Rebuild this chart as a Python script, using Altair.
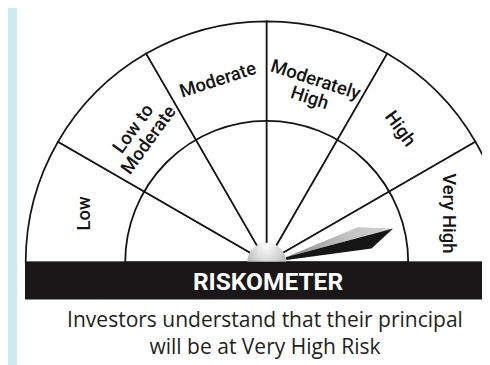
import math
import altair as alt
import pandas as pd

# ---- data ----
CATEGORIES = ["Low", "Low to Moderate", "Moderate", "Moderately High", "High", "Very High"]
LABELS = ["Low", "Low to\nModerate", "Moderate", "Moderately\nHigh", "High", "Very High"]
SHARES = [1, 1, 1, 1, 1, 1]
NEEDLE_LEVEL = "Very High"
TITLE = ["RISKOMETER"]
CAPTION = ["Investors understand that their principal\nwill be at Very High Risk"]

# ---- layout ----
W, H = 474, 357
CX, CY = 258.7, 254.3
R_OUT, R_IN, R_LABEL, R_HUB = 241, 141.5, 189, 19.5
NEEDLE_LEN = 131
N = len(CATEGORIES)
SPAN = 180.0 / N
LABEL_FONT = "Roboto"

seg = pd.DataFrame({"category": CATEGORIES, "label": LABELS, "share": SHARES,
                    "idx": list(range(N))})
needle = pd.DataFrame({"level": [NEEDLE_LEVEL], "idx": [CATEGORIES.index(NEEDLE_LEVEL)]})
one = pd.DataFrame({"k": [0]})

theta_enc = alt.Theta("share:Q", stack=True,
                      scale=alt.Scale(range=[-math.pi / 2, math.pi / 2]))

panel = alt.Chart(one).mark_rect(color="white").encode(
    x=alt.value(9), x2=alt.value(W + 2), y=alt.value(-2), y2=alt.value(H + 2))

base = alt.Chart(seg).encode(theta=theta_enc, order=alt.Order("idx:Q"),
                             detail="category:N", x=alt.value(CX), y=alt.value(CY))

segments = base.mark_arc(radius=R_OUT, fill="white", stroke="#141414", strokeWidth=1.7)

inner = alt.Chart(one).mark_arc(radius=R_IN, theta=1.5 * math.pi, theta2=2.5 * math.pi,
                                fillOpacity=0, stroke="#141414", strokeWidth=1.8).encode(
    x=alt.value(CX), y=alt.value(CY))

labels = base.transform_calculate(
    mid=f"180 - (datum.idx + 0.5) * {SPAN}",
    rot="(1.2 * (90 - datum.mid) + 360) % 360",
).mark_text(radius=R_LABEL, font=LABEL_FONT, fontSize=18.5, fontWeight=500,
            lineBreak="\n", lineHeight=19,
            color="#141414", align="center", baseline="middle").encode(
    text="label:N", angle=alt.Angle("rot:Q", scale=None))

needle_base = alt.Chart(needle).transform_calculate(
    rot=f"180 + (datum.idx + 0.5) * {SPAN}"
).encode(x=alt.value(CX), y=alt.value(CY), angle=alt.Angle("rot:Q", scale=None))

NEEDLE_UP = "M 0.15 0 L 0.74 -0.079 L 1 0 Z"
NEEDLE_DN = "M 0.15 0 L 1 0 L 0.80 0.106 L 0.15 0.022 Z"
nsize = (2 * NEEDLE_LEN) ** 2

needle_up = needle_base.mark_point(
    shape=NEEDLE_UP, size=nsize, filled=True, opacity=1, strokeWidth=0,
    fill=alt.LinearGradient(gradient="linear",
                            stops=[alt.GradientStop(color="#8c8c8c", offset=0),
                                   alt.GradientStop(color="#c4c4c4", offset=0.6),
                                   alt.GradientStop(color="#cfcfcf", offset=1)],
                            x1=0, y1=0, x2=1, y2=0))
needle_dn = needle_base.mark_point(shape=NEEDLE_DN, size=nsize, filled=True, opacity=1,
                                   strokeWidth=0, fill="#161616")

hub = alt.Chart(one).mark_arc(
    radius=R_HUB, theta=1.5 * math.pi, theta2=2.5 * math.pi,
    fill=alt.RadialGradient(gradient="radial",
                            stops=[alt.GradientStop(color="#ffffff", offset=0),
                                   alt.GradientStop(color="#d0d0d0", offset=0.55),
                                   alt.GradientStop(color="#9c9c9c", offset=1)],
                            x1=0.5, y1=0.3, x2=0.5, y2=0.5, r1=0, r2=0.7)
).encode(x=alt.value(CX), y=alt.value(CY))

bar = alt.Chart(one).mark_rect(color="#1a1718").encode(
    x=alt.value(17), x2=alt.value(W + 2), y=alt.value(CY - 0.5), y2=alt.value(291.5))

title = alt.Chart(pd.DataFrame({"t": TITLE})).mark_text(
    font="Roboto", fontSize=24.5, fontWeight="bold", color="white",
    align="center", baseline="alphabetic").encode(
    text="t:N", x=alt.value(260), y=alt.value(282))

caption = alt.Chart(pd.DataFrame({"t": CAPTION})).mark_text(
    font="Open Sans", fontSize=21, color="#231f20", lineBreak="\n", lineHeight=27,
    align="center", baseline="alphabetic").encode(
    text="t:N", x=alt.value(257), y=alt.value(319))

chart = alt.layer(panel, segments, inner, labels, needle_up, needle_dn, hub, bar, title,
                  caption).properties(
    width=W, height=H, background="#cbe9ef", padding=0,
    autosize=alt.AutoSizeParams(type="none")
).configure_view(stroke="transparent")

chart.save("out.html", embed_options={"renderer": "svg", "actions": False})
